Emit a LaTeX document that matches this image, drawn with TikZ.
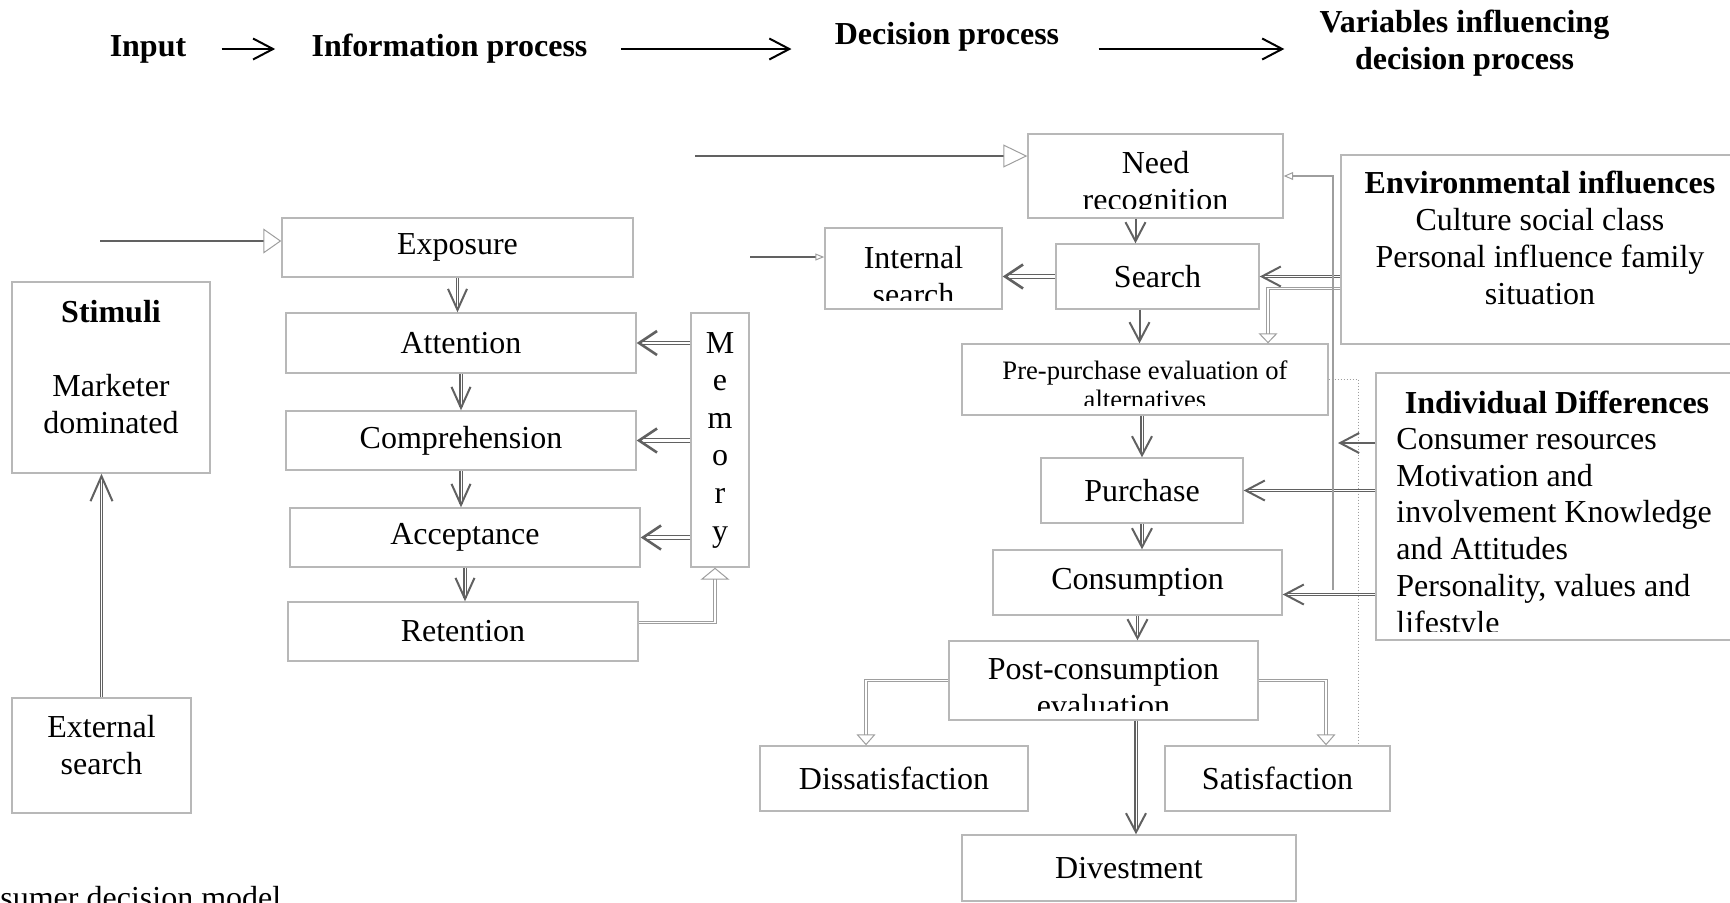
\documentclass[tikz,border=0pt]{standalone}
\usepackage{fontspec}
\setmainfont{Liberation Serif}
\usetikzlibrary{arrows.meta}

\definecolor{boxgray}{gray}{0.72}
\definecolor{arrgray}{gray}{0.38}
\definecolor{tipgray}{gray}{0.62}

\begin{document}
\begin{tikzpicture}[
    x=0.5pt, y=-0.5pt,
    every node/.style={inner sep=0pt, align=center, font=\fontsize{16}{18.5}\selectfont},
    box/.style={draw=boxgray, line width=0.7pt},
    hd/.style={font=\fontsize{16}{18.5}\selectfont\bfseries},
    small/.style={font=\fontsize{13.3}{14.5}\selectfont},
    vee/.style 2 args={-{Straight Barb[length=#1,width=#2,line width=1pt]}},
    tri/.style 2 args={-{Triangle[open,length=#1,width=#2,line width=0.5pt,color=tipgray]}},
    flow/.style={draw=arrgray, line width=1pt, vee={9.5pt}{10pt}},
    dflow/.style={draw=arrgray, double=white, double distance=0.5pt, line width=0.55pt, vee={9.5pt}{10pt}},
    recall/.style={draw=arrgray, double=white, double distance=1.2pt, line width=0.6pt, -{Straight Barb[length=9pt,width=12pt,line width=1.3pt]}},
    inline/.style={draw=arrgray, line width=0.6pt},
    dline/.style={draw=tipgray, double=white, double distance=0.6pt, line width=0.5pt},
    fbline/.style={draw=tipgray, line width=0.9pt},
    dotline/.style={draw=tipgray, line width=0.5pt, densely dotted},
    hdarrow/.style={draw=black, line width=1pt, -{Straight Barb[length=10pt,width=10.5pt,line width=1pt]}},
]
\useasboundingbox (0,0) rectangle (1730,902);

% Top: stages
\node[hd] (input) at (148,49) {Input};
\node[hd] (infoproc) at (449.5,49) {Information process};
\node[hd] (decision) at (947,37) {Decision process};
\node[hd] (variables) at (1464.5,43) {Variables influencing\\decision process};

\draw[hdarrow, shorten <=17.5pt, shorten >=18pt] (input) -- (infoproc);
\draw[hdarrow, shorten <=16.5pt, shorten >=21.5pt] (infoproc.east) -- (infoproc.east -| decision.west);
\draw[hdarrow, shorten <=19.5pt, shorten >=17.5pt] (infoproc.east -| decision.east) -- (infoproc.east -| variables.west);

% Left: input and information process
\node[box, minimum width=99pt, minimum height=95.5pt] (stimuli) at (111,377.5) {};
\node[anchor=north] (stimtxt) at (111,300) {\textbf{Stimuli}\\[18.5pt]Marketer\\dominated};
\node[box, minimum width=89.5pt, minimum height=57.5pt] (extsearch) at (101.5,755.5) {};
\node[anchor=north] (exttxt) at (101.5,715) {External\\search};

\node[box, minimum width=175.5pt, minimum height=29.5pt] (exposure) at (457.5,247.5) {Exposure};
\node[box, minimum width=175pt, minimum height=30pt] (attention) at (461,343) {Attention};
\node[box, minimum width=175pt, minimum height=29.5pt] (comprehension) at (461,440.5) {Comprehension};
\node[box, minimum width=175pt, minimum height=29.5pt] (acceptance) at (465,537.5) {Acceptance};
\node[box, minimum width=175pt, minimum height=29.5pt] (retention) at (463,631.5) {Retention};
\node[box, minimum width=29pt, minimum height=127pt, font=\fontsize{16}{18.8}\selectfont] (memory) at (720,440) {M\\e\\m\\o\\r\\y};

\coordinate (toexp) at (100,241);
\draw[inline, tri={9pt}{12.5pt}] (toexp) -- (toexp -| exposure.west);
\draw[dflow, vee={12.5pt}{11pt}] (extsearch.north) -- (extsearch.north |- stimuli.south);
\foreach \a/\b in {exposure/attention, attention/comprehension, comprehension/acceptance, acceptance/retention}
    \draw[dflow, vee={10.5pt}{9.5pt}] (\a.south) -- (\a.south |- \b.north);
\foreach \b in {attention, comprehension, acceptance}
    \draw[recall] (memory.west |- \b.east) -- (\b.east);
\path (retention.east) ++(0,-9) coordinate (retout);
\path (memory.south) ++(-5,0) coordinate (memin);
\draw[dline, tri={6pt}{14.5pt}] (retout) -| (memin);

% Middle: decision process
\node[box, minimum width=127.5pt, minimum height=42pt] (need) at (1155.5,176) {};
\node[box, minimum width=88.5pt, minimum height=40.5pt] (intsearch) at (913.5,268.5) {};
\node[box, minimum width=101.5pt, minimum height=32.5pt] (search) at (1157.5,276.5) {Search};
\node[box, minimum width=183pt, minimum height=35.5pt] (prepurchase) at (1145,379.5) {};
\node[box, minimum width=101pt, minimum height=32.5pt] (purchase) at (1142,490.5) {Purchase};
\node[box, minimum width=144.5pt, minimum height=32.5pt] (consumption) at (1137.5,582.5) {Consumption};
\node[box, minimum width=154.5pt, minimum height=39.5pt] (postcons) at (1103.5,680.5) {};
\node[box, minimum width=134pt, minimum height=32.5pt] (dissat) at (894,778.5) {Dissatisfaction};
\node[box, minimum width=112.5pt, minimum height=32.5pt] (sat) at (1277.5,778.5) {Satisfaction};
\node[box, minimum width=167pt, minimum height=33pt] (divest) at (1129,868) {Divestment};

% texts cut off by their boxes
\begin{scope}
    \clip (1028,134) rectangle (1283,208);
    \node[anchor=north] (needtxt) at (1155.5,151) {Need\\recognition};
\end{scope}
\begin{scope}
    \clip (825,228) rectangle (1002,300);
    \node[anchor=north] (inttxt) at (913.5,246) {Internal\\search};
\end{scope}
\begin{scope}
    \clip (962,344) rectangle (1328,405);
    \node[small, anchor=north] (pretxt) at (1145,360) {Pre-purchase evaluation of\\alternatives};
\end{scope}
\begin{scope}
    \clip (949,641) rectangle (1258,710);
    \node[anchor=north] (posttxt) at (1103.5,658) {Post-consumption\\evaluation};
\end{scope}

\coordinate (toneed) at (695,156);
\coordinate (toint) at (750,257);
\draw[inline, tri={12pt}{11.5pt}] (toneed) -- (toneed -| need.west);
\draw[inline, tri={4.5pt}{3.5pt}] (toint) -- (toint -| intsearch.west);

\path (need.south) ++(-20,0) coordinate (needout);
\path (search.south) ++(-18,0) coordinate (searchout);
\draw[flow] (needout) -- (needout |- search.north);
\draw[flow] (searchout) -- (searchout |- prepurchase.north);
\draw[recall] (search.west) -- (search.west -| intsearch.east);
\draw[dflow] (prepurchase.south -| purchase.north) -- (purchase.north);
\draw[dflow] (purchase.south) -- (purchase.south |- consumption.north);
\draw[dflow] (consumption.south) -- (consumption.south |- postcons.north);
\path (divest.north) ++(7,0) coordinate (divin);
\draw[dflow] (divin |- postcons.south) -- (divin);
\path (dissat.north) ++(-28,0) coordinate (disin);
\path (sat.north) ++(48.5,0) coordinate (satin);
\draw[dline, tri={5.5pt}{9.5pt}] (postcons.west) -| (disin);
\draw[dline, tri={5.5pt}{9.5pt}] (postcons.east) -| (satin);
\path (sat.north) ++(81,0) coordinate (dotin);
\draw[dotline] (prepurchase.east) -| (dotin);

% Right: variables influencing decision process
\node[box, minimum width=199.5pt, minimum height=94.5pt] (env) at (1540.5,249.5) {};
\node[anchor=north] (envtxt) at (1540,171) {\textbf{Environmental influences}\\Culture social class\\Personal influence family\\situation};
\node[box, minimum width=182pt, minimum height=133.5pt] (ind) at (1558,506.5) {};
\node[hd, anchor=north] (indhead) at (1557,391) {Individual Differences};
\begin{scope}
    \clip (1376,373) rectangle (1740,631);
    \node[anchor=north west, align=left, font=\fontsize{16}{18.45}\selectfont] (indtxt) at (1396,427.5)
    {Consumer resources\\Motivation and\\involvement Knowledge\\and Attitudes\\Personality, values and\\lifestyle};
\end{scope}

\draw[dflow] (env.west |- search.east) -- (search.east);
\path (env.west |- search.east) ++(0,12) coordinate (envtap);
\path (prepurchase.north) ++(123,0) coordinate (prein);
\draw[dline, tri={5pt}{9.5pt}] (envtap) -| (prein);

\draw[dflow] (ind.west |- purchase.east) -- (purchase.east);
\path (consumption.east) ++(0,12) coordinate (consin);
\draw[dflow] (consin -| ind.west) -- (consin);

% feedback to need recognition
\coordinate (fbfoot) at (1333,590);
\draw[fbline, tri={4.75pt}{4pt}] (fbfoot) |- (need.east);
\coordinate (fbhit) at (1338,443);
\draw[flow] (fbhit -| ind.west) -- (fbhit);

\node[anchor=base west] (caption) at (0,908) {sumer decision model};

\end{tikzpicture}
\end{document}
